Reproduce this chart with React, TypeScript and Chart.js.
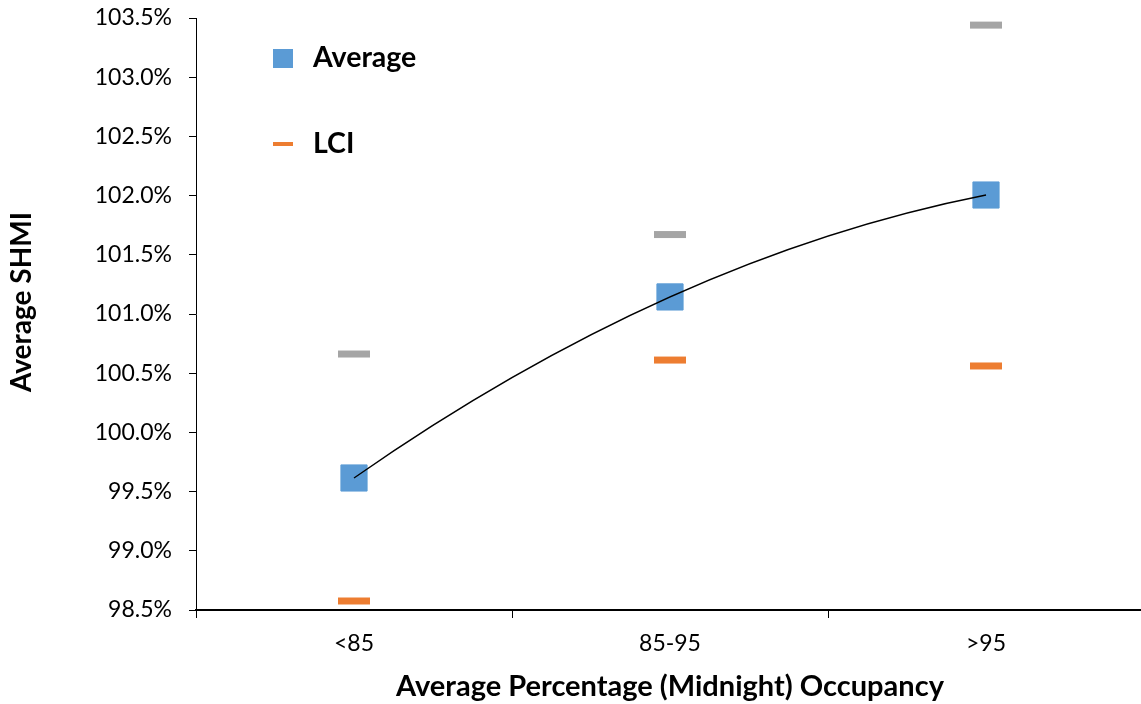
import React, { useEffect, useRef } from 'react';
import { Chart, registerables } from 'chart.js';

Chart.register(...registerables);

const categories = ['<85', '85-95', '>95'];
const averageValues = [99.615, 101.144, 102.005];
const uciValues = [100.662, 101.671, 103.44];
const lciValues = [98.576, 100.611, 100.561];
const yMin = 98.5;
const yMax = 103.5;
const yStep = 0.5;

const xTitle = 'Average Percentage (Midnight) Occupancy';
const yTitle = 'Average SHMI';

const FONT = 'Lato, "Open Sans", sans-serif';
const BLUE = '#5B9BD5';
const ORANGE = '#ED7D31';
const GRAY = '#A5A5A5';

// Polynomial (order 2) trendline through the Average points, drawn from the
// library-computed point positions (a parabola through 3 equally spaced points
// is exactly a quadratic Bezier).
const trendPlugin = {
  id: 'polyTrend',
  afterDatasetsDraw(chart: any) {
    const pts = chart.getDatasetMeta(0).data;
    if (!pts || pts.length < 3) return;
    const p0 = pts[0], p1 = pts[1], p2 = pts[2];
    const cx = 2 * p1.x - (p0.x + p2.x) / 2;
    const cy = 2 * p1.y - (p0.y + p2.y) / 2;
    const ctx = chart.ctx;
    ctx.save();
    ctx.strokeStyle = '#000';
    ctx.lineWidth = 1.3;
    ctx.beginPath();
    ctx.moveTo(p0.x, p0.y);
    ctx.quadraticCurveTo(cx, cy, p2.x, p2.y);
    ctx.stroke();
    ctx.restore();
  },
};

const legendPlugin = {
  id: 'customLegend',
  afterDraw(chart: any) {
    const { ctx, chartArea } = chart;
    const x0 = chartArea.left + 77;
    const y0 = chartArea.top + 31;
    ctx.save();
    ctx.fillStyle = BLUE;
    ctx.fillRect(x0, y0, 20, 19);
    ctx.fillStyle = ORANGE;
    ctx.fillRect(x0, y0 + 93, 20, 4);
    ctx.fillStyle = '#000';
    ctx.font = `bold 28.5px ${FONT}`;
    ctx.textBaseline = 'middle';
    ctx.textAlign = 'left';
    ctx.fillText(chart.data.datasets[0].label, x0 + 40, y0 + 9);
    ctx.fillText(chart.data.datasets[2].label, x0 + 40, y0 + 95);
    // vertical axis title
    ctx.save();
    ctx.translate(22, (chartArea.top + chartArea.bottom) / 2 - 12);
    ctx.rotate(-Math.PI / 2);
    ctx.textAlign = 'center';
    ctx.font = `bold 28px ${FONT}`;
    ctx.fillText(yTitle, 0, 0);
    ctx.restore();
    ctx.restore();
  },
};

export default function App() {
  const canvasRef = useRef<HTMLCanvasElement | null>(null);

  useEffect(() => {
    document.body.style.margin = '0';
    document.body.style.overflow = 'hidden';
    const canvas = canvasRef.current;
    if (!canvas) return;
    const chart = new Chart(canvas, {
      type: 'line',
      data: {
        labels: categories,
        datasets: [
          {
            label: 'Average',
            data: averageValues,
            showLine: false,
            pointStyle: 'rect',
            pointRadius: 18.5,
            pointBackgroundColor: BLUE,
            pointBorderColor: BLUE,
            pointBorderWidth: 1,
          },
          {
            label: 'UCI',
            data: uciValues,
            showLine: false,
            pointStyle: 'line',
            pointRadius: 16,
            pointBorderColor: GRAY,
            pointBackgroundColor: GRAY,
            pointBorderWidth: 7,
          },
          {
            label: 'LCI',
            data: lciValues,
            showLine: false,
            pointStyle: 'line',
            pointRadius: 16,
            pointBorderColor: ORANGE,
            pointBackgroundColor: ORANGE,
            pointBorderWidth: 7,
          },
        ],
      },
      options: {
        responsive: false,
        animation: false,
        devicePixelRatio: 1,
        layout: { autoPadding: false, padding: { top: 18, right: 2, bottom: 0, left: 0 } },
        plugins: {
          legend: { display: false },
          tooltip: { enabled: false },
          title: { display: false },
        },
        scales: {
          x: {
            type: 'category',
            offset: true,
            grid: {
              offset: true,
              drawOnChartArea: false,
              drawTicks: true,
              tickLength: 8,
              color: '#000',
            },
            border: { color: '#000', width: 2 },
            ticks: {
              color: '#000',
              padding: 12,
              font: { family: FONT, size: 23 },
            },
            title: {
              display: true,
              text: xTitle,
              color: '#000',
              font: { family: FONT, size: 29, weight: 'bold' },
              padding: { top: 0, bottom: 0 },
            },
            afterFit(scale: any) {
              scale.height = 94;
              scale.paddingLeft = 0;
              scale.paddingRight = 0;
            },
          },
          y: {
            type: 'linear',
            min: yMin,
            max: yMax,
            grid: {
              drawOnChartArea: false,
              drawTicks: true,
              tickLength: 7,
              color: '#000',
            },
            border: { color: '#000', width: 1 },
            ticks: {
              stepSize: yStep,
              color: '#000',
              padding: 17,
              font: { family: FONT, size: 23 },
              callback: (v: any) => Number(v).toFixed(1) + '%',
            },
            title: { display: false },
            afterFit(scale: any) {
              scale.width = 196;
              scale.paddingTop = 0;
              scale.paddingBottom = 0;
            },
          },
        },
      } as any,
      plugins: [trendPlugin, legendPlugin],
    });
    return () => chart.destroy();
  }, []);

  return (
    <div style={{ position: 'fixed', left: 0, top: 0, width: 1146, height: 704 }}>
      <canvas ref={canvasRef} width={1146} height={704} />
    </div>
  );
}
